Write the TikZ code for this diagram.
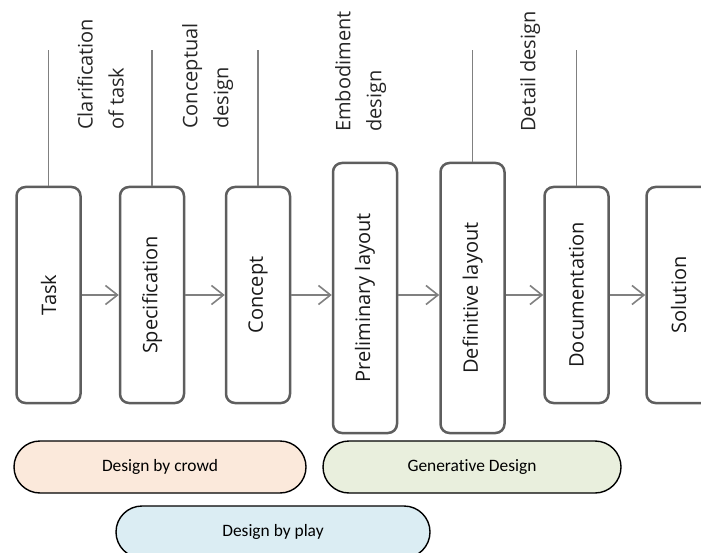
\documentclass[tikz,border=0pt]{standalone}
\usepackage{fontspec}
\setmainfont{Open Sans}
\newfontfamily\pillfont[Ligatures={NoCommon}]{Carlito}
\usetikzlibrary{arrows.meta}
\definecolor{boxgray}{HTML}{5E5E5E}
\definecolor{linegray}{HTML}{808080}
\definecolor{crowdfill}{HTML}{FBE9DB}
\definecolor{genfill}{HTML}{E9EFDD}
\definecolor{playfill}{HTML}{DBEDF3}
\begin{document}
\begin{tikzpicture}[x=1pt,y=-1pt,
  stagebox/.style={draw=boxgray, line width=2.5pt, rounded corners=9pt, minimum width=64pt, inner sep=0pt},
  shortbox/.style={stagebox, minimum height=216pt},
  tallbox/.style={stagebox, minimum height=270pt},
  boxtext/.style={rotate=90, inner sep=0pt, font=\fontsize{20}{24}\selectfont, text=black!90},
  phasetext/.style={rotate=90, anchor=north west, inner sep=0pt, align=left, font=\fontsize{20}{31}\selectfont, text=black!85},
  conn/.style={draw=linegray, line width=1.6pt},
  arr/.style={conn, -{Straight Barb[length=12pt, width=19pt, line width=1.6pt]}},
  pill/.style={draw=black, line width=1.4pt, rounded corners=26pt, minimum height=52pt, inner sep=0pt, font=\pillfont\fontsize{17.4}{20}\selectfont}
]
\clip (0,0) rectangle (701,553);
% stage boxes
\node[shortbox] (task) at (48.5,295) {};
\node[shortbox] (spec) at (152,295) {};
\node[shortbox] (conc) at (258,295) {};
\node[tallbox]  (prel) at (365,298) {};
\node[tallbox]  (defi) at (472.5,298) {};
\node[shortbox] (docu) at (576.5,295) {};
\node[shortbox] (solu) at (678.5,295) {};
% box labels
\node[boxtext] (taskt) at (task.center) {Task};
\node[boxtext] (spect) at (spec.center) {Specification};
\node[boxtext] (conct) at (conc.center) {Concept};
\node[boxtext] (prelt) at (prel.center) {Preliminary layout};
\node[boxtext] (defit) at (defi.center) {Definitive layout};
\node[boxtext] (docut) at (docu.center) {Documentation};
\node[boxtext] (solut) at (solu.center) {Solution};
% arrows
\draw[arr] (task.east) -- (spec.west);
\draw[arr] (spec.east) -- (conc.west);
\draw[arr] (conc.east) -- (prel.west |- conc.east);
\draw[arr] (prel.east |- conc.east) -- (defi.west |- conc.east);
\draw[arr] (defi.east |- conc.east) -- (docu.west);
\draw[arr] (docu.east) -- (solu.west);
% phase dividers
\coordinate (t1) at (48.5,50);
\coordinate (t2) at (152,50);
\coordinate (t3) at (258,50);
\coordinate (t4) at (472.5,50);
\coordinate (t5) at (576.5,50);
\draw[conn] (task.north) -- (t1);
\draw[conn] (spec.north) -- (t2);
\draw[conn] (conc.north) -- (t3);
\draw[conn] (defi.north) -- (t4);
\draw[conn] (docu.north) -- (t5);
% phase labels
\node[phasetext] (p1) at (77,130) {Clarification\\of task};
\node[phasetext] (p2) at (182,129) {Conceptual\\design};
\node[phasetext] (p3) at (335,132) {Embodiment\\design};
\node[phasetext] (p4) at (520,132) {Detail design};
% approaches
\node[pill, fill=crowdfill, minimum width=292pt] (crowd) at (160,467) {Design by crowd};
\node[pill, fill=genfill, minimum width=298pt] (gen) at (472,467) {Generative Design};
\node[pill, fill=playfill, minimum width=314pt] (play) at (273,532) {Design by play};
\end{tikzpicture}
\end{document}
